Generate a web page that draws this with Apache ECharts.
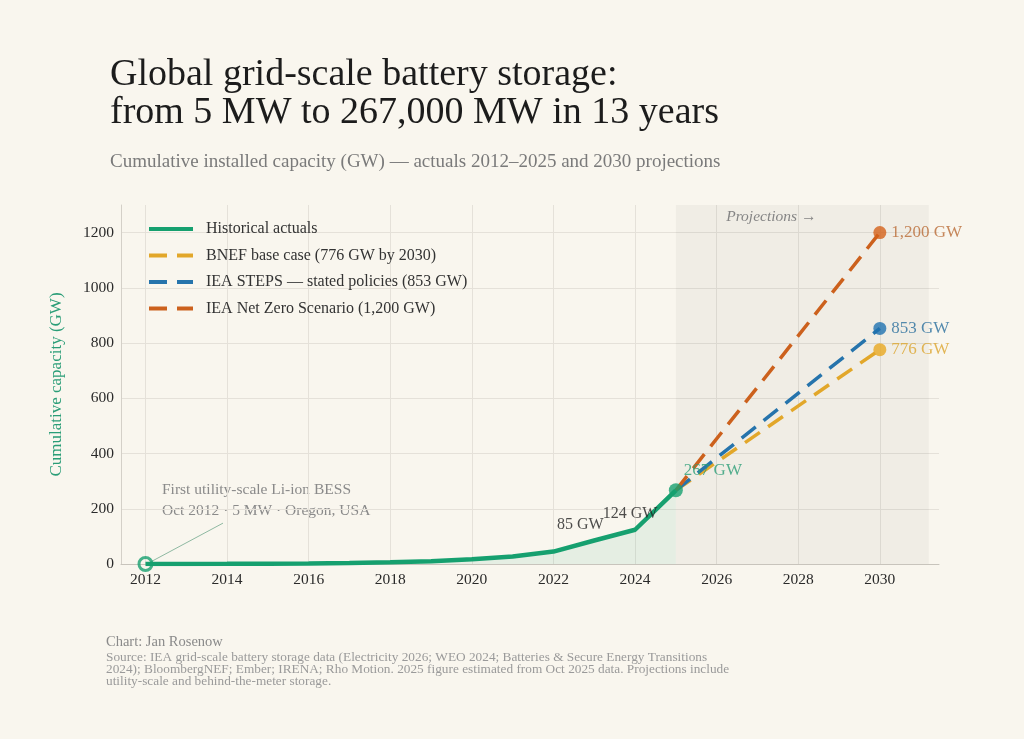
<!DOCTYPE html>
<html>
<head>
<meta charset="utf-8">
<script src="https://cdn.jsdelivr.net/npm/echarts@6/dist/echarts.min.js"></script>
<style>
  html, body { margin: 0; padding: 0; background: #f9f6ee; }
  #chart { width: 1024px; height: 739px; }
</style>
</head>
<body>
<div id="chart"></div>
<script>
// historical cumulative capacity, GW
const histYears = [2012, 2013, 2014, 2015, 2016, 2017, 2018, 2019, 2020, 2021, 2022, 2023, 2024, 2025];
const histValues = [0.005, 0.3, 0.7, 1.3, 2.2, 3.6, 6, 10, 17, 27, 45, 85, 124, 267];

// projections from 2025 to 2030
const projYears = [2025, 2030];
const bnefValues = [267, 776];
const stepsValues = [267, 853];
const nzeValues = [267, 1200];

const xTicks = [2012, 2014, 2016, 2018, 2020, 2022, 2024, 2026, 2028, 2030];
const yTicks = [0, 200, 400, 600, 800, 1000, 1200];

const FONT = '"Liberation Serif", "DejaVu Serif", serif';
const GREEN = '#16a06f';

const pair = (xs, ys) => xs.map((x, i) => [x, ys[i]]);

var myChart = echarts.init(document.getElementById('chart'));

myChart.setOption({
  backgroundColor: '#f9f6ee',
  textStyle: { fontFamily: FONT },
  title: [
    {
      text: 'Global grid-scale battery storage:\nfrom 5 MW to 267,000 MW in 13 years',
      left: 105,
      top: 51,
      textStyle: { fontFamily: FONT, fontSize: 38, fontWeight: 'normal', color: '#1c1c1c', lineHeight: 38 },
    },
    {
      text: 'Cumulative installed capacity (GW) — actuals 2012–2025 and 2030 projections',
      left: 105,
      top: 148,
      textStyle: { fontFamily: FONT, fontSize: 19, fontWeight: 'normal', color: '#7a7a7a' },
    },
    {
      text: 'Chart: Jan Rosenow',
      left: 101,
      top: 630,
      textStyle: { fontFamily: FONT, fontSize: 14.5, fontWeight: 'normal', color: '#8a8a8a' },
    },
    {
      text: 'Source: IEA grid-scale battery storage data (Electricity 2026; WEO 2024; Batteries & Secure Energy Transitions\n' +
        '2024); BloombergNEF; Ember; IRENA; Rho Motion. 2025 figure estimated from Oct 2025 data. Projections include\n' +
        'utility-scale and behind-the-meter storage.',
      left: 101,
      top: 647,
      textStyle: { fontFamily: FONT, fontSize: 13.3, fontWeight: 'normal', color: '#9a9a9a', lineHeight: 12 },
    },
  ],
  legend: {
    orient: 'vertical',
    left: 142,
    top: 216,
    itemWidth: 44,
    itemHeight: 14,
    itemGap: 10.5,
    itemStyle: { color: 'rgba(0,0,0,0)', borderWidth: 0 },
    lineStyle: { width: 4 },
    data: ['Historical actuals', 'BNEF base case (776 GW by 2030)', 'IEA STEPS — stated policies (853 GW)', 'IEA Net Zero Scenario (1,200 GW)'],
    textStyle: { fontFamily: FONT, fontSize: 16, color: '#333', padding: [0, 0, 0, 8] },
  },
  grid: { left: 121, right: 85, top: 205, bottom: 175 },
  xAxis: {
    type: 'value',
    min: 2011.4,
    max: 2031.45,
    axisLine: { lineStyle: { color: '#c8c4bc' } },
    axisTick: { show: false, customValues: xTicks },
    axisLabel: { customValues: xTicks, formatter: v => String(v), fontFamily: FONT, fontSize: 15.5, color: '#2a2a2a', margin: 8 },
    splitLine: { show: true, lineStyle: { color: '#e5e1d9', width: 1 } },
  },
  yAxis: {
    type: 'value',
    min: 0,
    max: 1300,
    name: 'Cumulative capacity (GW)',
    nameLocation: 'middle',
    nameGap: 56,
    nameTextStyle: { fontFamily: FONT, fontSize: 17, color: '#2a9d77' },
    axisLine: { show: true, lineStyle: { color: '#d4d0c8' } },
    axisTick: { show: false, customValues: yTicks },
    axisLabel: { customValues: yTicks, formatter: v => String(v), fontFamily: FONT, fontSize: 15.5, color: '#2a2a2a', margin: 7 },
    splitLine: { show: true, lineStyle: { color: '#e5e1d9', width: 1 } },
  },
  series: [
    {
      name: 'Historical actuals',
      type: 'line',
      data: pair(histYears, histValues),
      symbol: 'none',
      z: 5,
      lineStyle: { color: GREEN, width: 4.5 },
      itemStyle: { color: GREEN },
      areaStyle: { color: 'rgba(22,160,111,0.12)' },
      markArea: {
        silent: true,
        itemStyle: { color: 'rgba(0,0,0,0.035)' },
        label: {
          show: true,
          position: 'insideTop',
          distance: 4,
          offset: [-31, 0],
          formatter: 'Projections →',
          fontFamily: FONT,
          fontStyle: 'italic',
          fontSize: 15.5,
          color: '#858585',
        },
        data: [[{ xAxis: 2025 }, { xAxis: 2031.2 }]],
      },
      markLine: {
        silent: true,
        symbol: 'none',
        label: { show: false },
        lineStyle: { color: '#8fb9a2', width: 1, type: 'solid' },
        data: [[{ coord: [2012.12, 7] }, { coord: [2013.9, 148] }]],
      },
    },
    {
      name: 'BNEF base case (776 GW by 2030)',
      type: 'line',
      data: pair(projYears, bnefValues),
      symbol: 'none',
      z: 3,
      lineStyle: { color: '#e2a72a', width: 3.5, type: [18, 10] },
      itemStyle: { color: '#e2a72a' },
    },
    {
      name: 'IEA STEPS — stated policies (853 GW)',
      type: 'line',
      data: pair(projYears, stepsValues),
      symbol: 'none',
      z: 3,
      lineStyle: { color: '#2674ac', width: 3.5, type: [18, 10] },
      itemStyle: { color: '#2674ac' },
    },
    {
      name: 'IEA Net Zero Scenario (1,200 GW)',
      type: 'line',
      data: pair(projYears, nzeValues),
      symbol: 'none',
      z: 4,
      lineStyle: { color: '#cc611d', width: 3.5, type: [18, 10] },
      itemStyle: { color: '#cc611d' },
    },
    {
      // markers and value labels
      name: 'points',
      type: 'scatter',
      z: 6,
      silent: true,
      data: [
        {
          value: [histYears[0], histValues[0]],
          symbolSize: 13,
          itemStyle: { color: 'rgba(0,0,0,0)', borderColor: GREEN, borderWidth: 3 },
        },
        {
          value: [histYears[11], histValues[11]],
          symbolSize: 0,
          label: { show: true, position: 'top', offset: [-14, -3], formatter: '85 GW', color: '#222', fontSize: 16 },
        },
        {
          value: [histYears[12], histValues[12]],
          symbolSize: 0,
          label: { show: true, position: 'top', offset: [-5, -3], formatter: '124 GW', color: '#222', fontSize: 16 },
        },
        {
          value: [histYears[13], histValues[13]],
          symbolSize: 14,
          itemStyle: { color: GREEN },
          label: { show: true, position: [15, -13], align: 'left', verticalAlign: 'middle', formatter: '267 GW', color: '#2a9d77', fontSize: 17 },
        },
        {
          value: [projYears[1], nzeValues[1]],
          symbolSize: 13,
          itemStyle: { color: '#d4621a' },
          label: { show: true, position: 'right', distance: 5, formatter: '1,200 GW', color: '#b96a35', fontSize: 17 },
        },
        {
          value: [projYears[1], stepsValues[1]],
          symbolSize: 13,
          itemStyle: { color: '#1f72b0' },
          label: { show: true, position: 'right', distance: 5, formatter: '853 GW', color: '#2a6f9e', fontSize: 17 },
        },
        {
          value: [projYears[1], bnefValues[1]],
          symbolSize: 13,
          itemStyle: { color: '#e8a821' },
          label: { show: true, position: 'right', distance: 5, formatter: '776 GW', color: '#dca52e', fontSize: 17 },
        },
      ],
      label: { fontFamily: FONT },
    },
  ],
  graphic: [
    {
      type: 'text',
      left: 162,
      top: 479,
      style: {
        text: 'First utility-scale Li-ion BESS\nOct 2012 · 5 MW · Oregon, USA',
        font: '15.5px "Liberation Serif", serif',
        fill: '#8a8a8a',
        lineHeight: 21,
      },
    },
  ],
});
</script>
</body>
</html>
